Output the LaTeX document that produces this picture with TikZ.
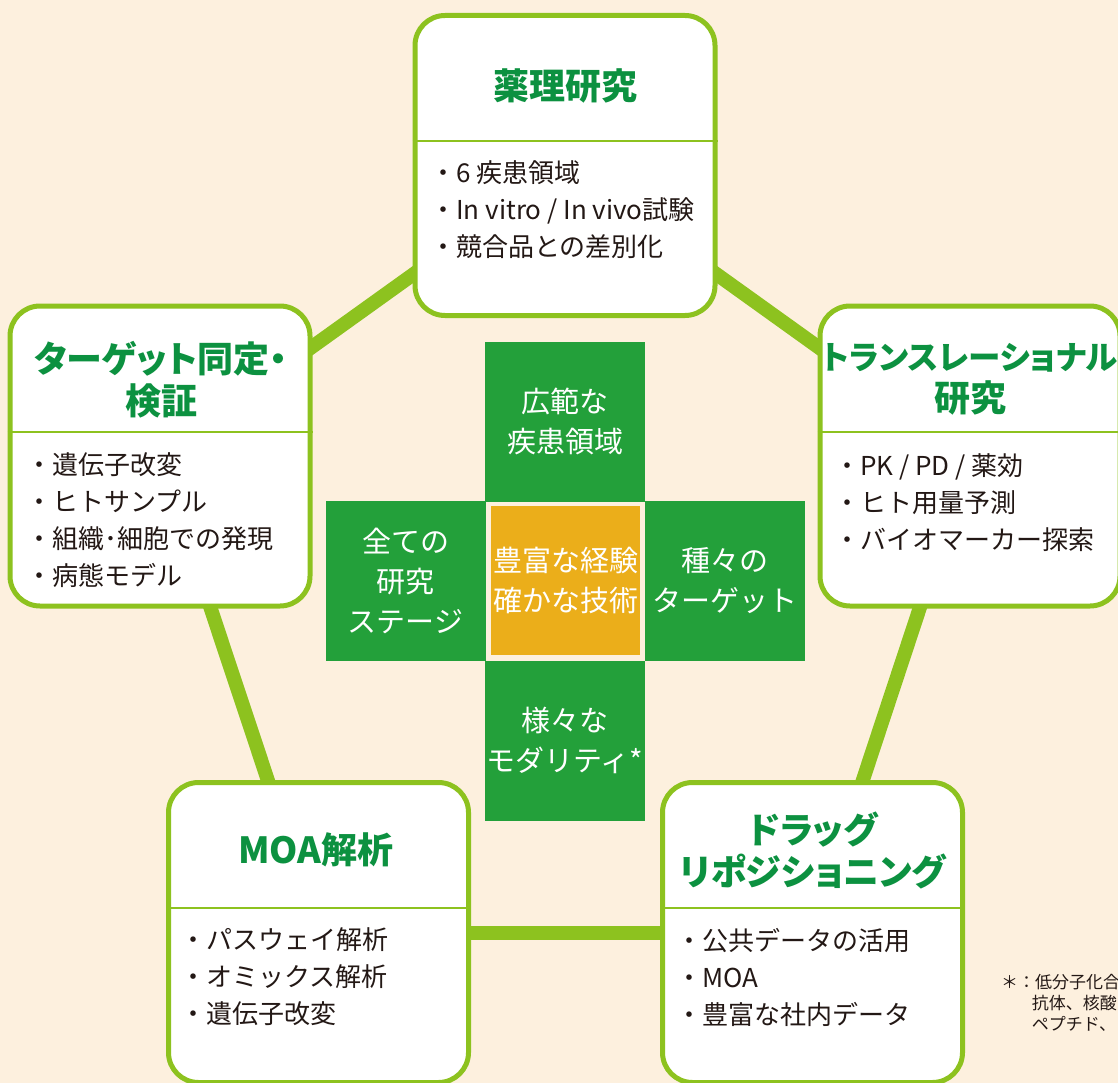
\documentclass[tikz,border=0pt]{standalone}
\usepackage{fontspec}
\setmainfont{Noto Sans CJK JP}
\usetikzlibrary{backgrounds}

\definecolor{cream}{RGB}{253,240,222}
\definecolor{lime}{RGB}{141,194,31}
\definecolor{leaf}{RGB}{12,145,64}
\definecolor{crossgreen}{RGB}{35,160,58}
\definecolor{amber}{RGB}{235,174,26}
\definecolor{ink}{RGB}{35,24,21}

\begin{document}
\begin{tikzpicture}[x=1pt, y=-1pt,
  box/.style={draw=lime, line width=5pt, fill=white, rounded corners=30pt,
    minimum width=300pt, minimum height=300pt, inner sep=0pt},
  divider/.style={draw=lime, line width=2pt},
  link/.style={draw=lime, line width=14pt},
  title/.style={text=leaf, align=center, inner sep=0pt,
    font=\fontsize{36}{42}\selectfont\bfseries\addfontfeatures{RawFeature=+palt}},
  items/.style={text=ink, align=left, anchor=west, inner sep=0pt,
    font=\fontsize{26}{37}\selectfont},
  arm/.style={fill=crossgreen, text=white, minimum size=160pt, inner sep=0pt,
    align=center, font=\fontsize{29}{40}\selectfont}]
  \useasboundingbox (0,0) rectangle (1118,1083);

  % five boxes
  \node[box] (pharm)  at (565,165.5) {};
  \node[box] (target) at (160,456) {};
  \node[box] (trans)  at (970,456) {};
  \node[box] (moa)    at (318.5,932.5) {};
  \node[box] (drug)   at (812.5,932.5) {};

  \foreach \b in {pharm,target,trans,moa,drug}
    \draw[divider] ([yshift=-128pt]\b.north west) -- ([yshift=-128pt]\b.north east);

  \node[title] (pharmT)  at (565,86)  {薬理研究};
  \node[title] (targetT) at (161,380) {ターゲット同定・\\検証};
  \node[title] (transT)  at (970,379) {{\fontsize{32.5}{42}\selectfont トランスレーショナル}\\研究};
  \node[title] (moaT)    at (316,850) {MOA解析};
  \node[title] (drugT)   at (813,850) {ドラッグ\\リポジショニング};

  \node[items] (pharmL)  at (430,210)   {・6 疾患領域\\・In vitro / In vivo試験\\・競合品との差別化};
  \node[items] (targetL) at (26,520.5)  {・遺伝子改変\\・ヒトサンプル\\・組織･細胞での発現\\・病態モデル};
  \node[items] (transL)  at (834,503)   {・PK / PD / 薬効\\・ヒト用量予測\\・バイオマーカー探索};
  \node[items] (moaL)    at (180,977)   {・パスウェイ解析\\・オミックス解析\\・遺伝子改変};
  \node[items] (drugL)   at (676,977)   {・公共データの活用\\・MOA\\・豊富な社内データ};

  % the cross in the middle
  \node[arm] (wide)  at (565,421.5) {広範な\\疾患領域};
  \node[arm] (stage) at (405.5,581) {全ての\\研究\\ステージ};
  \node[arm] (kinds) at (724.5,581) {種々の\\ターゲット};
  \node[arm] (modal) at (565,740.5) {様々な\\モダリティ*};
  \node[fill=amber, text=white, minimum size=149pt, inner sep=0pt, align=center,
    font=\fontsize{29}{40}\selectfont] (core) at (565.5,580) {豊富な経験\\確かな技術};

  \node[text=ink, align=left, anchor=north west, inner sep=0pt,
    font=\fontsize{17}{21}\selectfont] (note) at (1001,974)
    {＊：低分子化合\\\hspace*{1.8em}抗体、核酸\\\hspace*{1.8em}ペプチド、};

  \begin{scope}[on background layer]
    \fill[cream] (0,0) rectangle (1118,1083);
    \draw[link] (pharm.center) -- (target.center);
    \draw[link] (pharm.center) -- (trans.center);
    \draw[link] (target.center) -- (moa.center);
    \draw[link] (trans.center) -- (drug.center);
    \draw[link] (moa.center) -- (drug.center);
  \end{scope}
\end{tikzpicture}
\end{document}
